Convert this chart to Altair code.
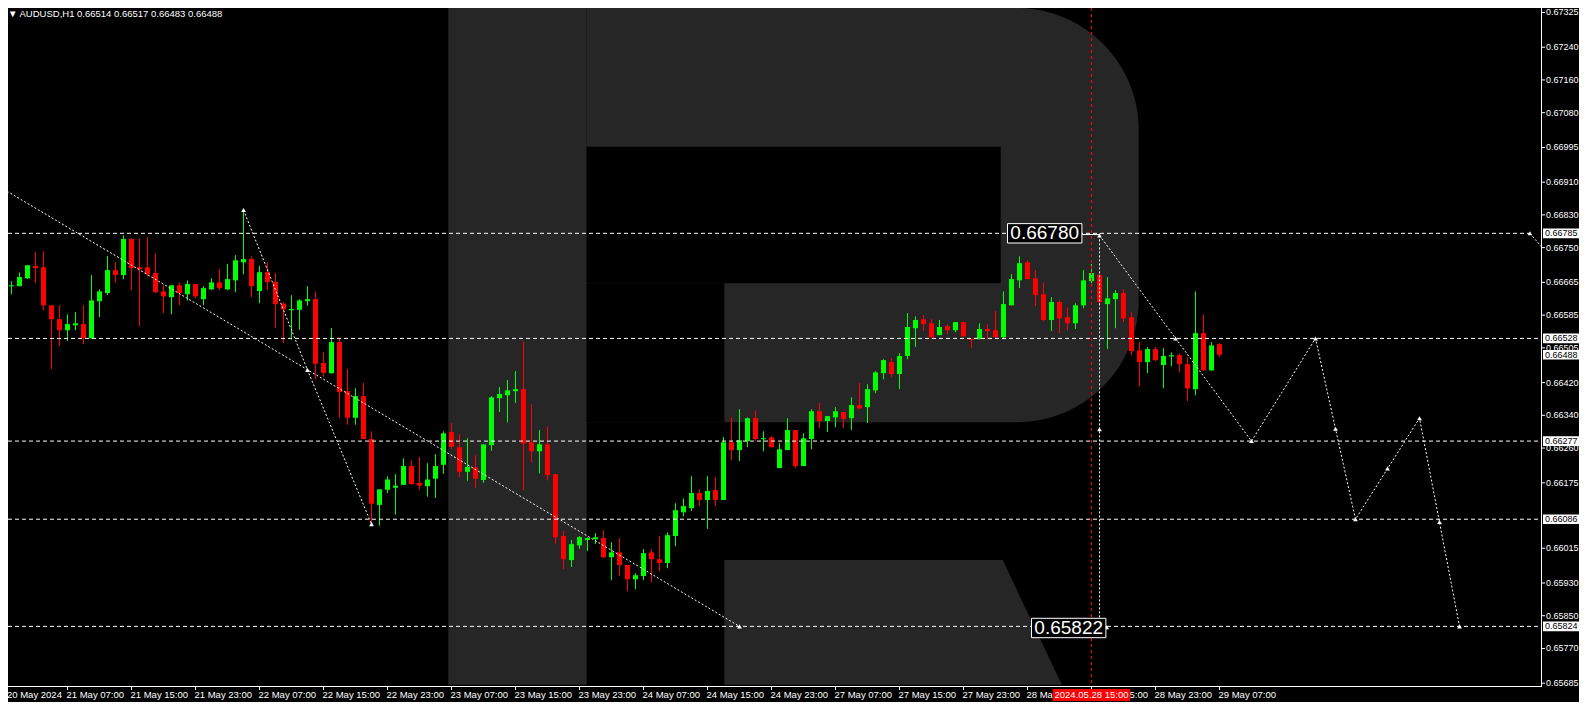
import altair as alt
import pandas as pd

FONT = "Liberation Sans"

# ---------------- candle data (H1 bars, index 0 = 20 May 23:00) ----------------
bar_index = list(range(153))
open_ = [0.66673,0.66657,0.66656,0.66675,0.66705,0.66702,0.66609,0.66575,0.66548,0.66560,
0.66563,0.66528,0.66619,0.66639,0.66695,0.66683,0.66771,0.66702,0.66702,0.66688,
0.66643,0.66629,0.66658,0.66636,0.66661,0.66624,0.66648,0.66665,0.66648,0.66670,
0.66714,0.66722,0.66644,0.66690,0.66666,0.66613,0.66597,0.66598,0.66619,0.66624,
0.66468,0.66443,0.66519,0.66399,0.66334,0.66387,0.66282,0.66121,0.66158,0.66163,
0.66170,0.66216,0.66175,0.66167,0.66185,0.66219,0.66299,0.66262,0.66202,0.66213,
0.66182,0.66267,0.66382,0.66389,0.66399,0.66404,0.66274,0.66252,0.66269,0.66196,
0.66045,0.65986,0.66022,0.66035,0.66037,0.66040,0.65993,0.66005,0.65974,0.65939,
0.65947,0.66005,0.65988,0.65979,0.66045,0.66103,0.66113,0.66150,0.66133,0.66157,
0.66133,0.66274,0.66255,0.66277,0.66333,0.66282,0.66286,0.66211,0.66255,0.66304,
0.66216,0.66282,0.66350,0.66326,0.66335,0.66348,0.66333,0.66365,0.66360,0.66401,
0.66443,0.66470,0.66441,0.66485,0.66553,0.66575,0.66565,0.66536,0.66558,0.66548,
0.66568,0.66527,0.66526,0.66551,0.66548,0.66531,0.66609,0.66670,0.66714,0.66675,
0.66636,0.66573,0.66617,0.66580,0.66565,0.66609,0.66668,0.66683,0.66612,0.66624,
0.66639,0.66580,0.66499,0.66470,0.66502,0.66463,0.66484,0.66487,0.66465,0.66404,
0.66541,0.66450,0.66514]
high_ = [0.66675,0.66668,0.66689,0.66707,0.66739,0.66741,0.66609,0.66609,0.66587,0.66592,
0.66609,0.66683,0.66648,0.66729,0.66714,0.66780,0.66773,0.66773,0.66775,0.66736,
0.66658,0.66658,0.66665,0.66670,0.66661,0.66656,0.66675,0.66697,0.66710,0.66732,
0.66842,0.66729,0.66705,0.66714,0.66688,0.66617,0.66634,0.66624,0.66656,0.66643,
0.66494,0.66553,0.66528,0.66453,0.66406,0.66419,0.66301,0.66159,0.66191,0.66196,
0.66235,0.66230,0.66238,0.66223,0.66245,0.66301,0.66321,0.66294,0.66284,0.66242,
0.66269,0.66387,0.66409,0.66426,0.66448,0.66521,0.66367,0.66304,0.66313,0.66196,
0.66057,0.66035,0.66045,0.66042,0.66052,0.66059,0.66030,0.66040,0.65974,0.65954,
0.66013,0.66013,0.66045,0.66054,0.66125,0.66137,0.66191,0.66159,0.66191,0.66189,
0.66287,0.66335,0.66355,0.66335,0.66352,0.66301,0.66289,0.66272,0.66333,0.66304,
0.66296,0.66355,0.66370,0.66338,0.66360,0.66348,0.66384,0.66419,0.66416,0.66448,
0.66477,0.66480,0.66492,0.66590,0.66582,0.66585,0.66575,0.66573,0.66563,0.66568,
0.66568,0.66529,0.66565,0.66563,0.66595,0.66643,0.66685,0.66729,0.66719,0.66695,
0.66665,0.66629,0.66621,0.66604,0.66614,0.66695,0.66710,0.66688,0.66678,0.66646,
0.66648,0.66592,0.66519,0.66507,0.66507,0.66504,0.66494,0.66492,0.66482,0.66643,
0.66587,0.66519,0.66517]
low_ = [0.66653,0.66636,0.66655,0.66673,0.66663,0.66597,0.66453,0.66509,0.66522,0.66548,
0.66514,0.66528,0.66580,0.66634,0.66665,0.66673,0.66646,0.66558,0.66680,0.66639,
0.66590,0.66587,0.66609,0.66621,0.66626,0.66609,0.66646,0.66646,0.66646,0.66641,
0.66685,0.66629,0.66614,0.66646,0.66554,0.66517,0.66525,0.66549,0.66608,0.66428,
0.66434,0.66442,0.66334,0.66317,0.66317,0.66282,0.66075,0.66070,0.66150,0.66097,
0.66170,0.66170,0.66158,0.66141,0.66138,0.66197,0.66258,0.66189,0.66180,0.66163,
0.66175,0.66253,0.66348,0.66323,0.66370,0.66157,0.66225,0.66198,0.66181,0.66026,
0.65964,0.65969,0.66013,0.66008,0.66025,0.65991,0.65937,0.65947,0.65910,0.65915,
0.65937,0.65932,0.65959,0.65966,0.66020,0.66093,0.66106,0.66118,0.66062,0.66118,
0.66133,0.66230,0.66228,0.66262,0.66277,0.66252,0.66262,0.66211,0.66255,0.66211,
0.66216,0.66257,0.66309,0.66299,0.66311,0.66309,0.66304,0.66355,0.66321,0.66394,
0.66428,0.66433,0.66404,0.66477,0.66507,0.66546,0.66526,0.66536,0.66538,0.66543,
0.66533,0.66504,0.66526,0.66526,0.66529,0.66526,0.66609,0.66651,0.66673,0.66607,
0.66570,0.66546,0.66541,0.66548,0.66551,0.66602,0.66663,0.66612,0.66502,0.66553,
0.66568,0.66487,0.66411,0.66443,0.66472,0.66406,0.66460,0.66445,0.66375,0.66389,
0.66450,0.66448,0.66483]
close_ = [0.66654,0.66658,0.66678,0.66707,0.66700,0.66609,0.66575,0.66548,0.66563,0.66565,
0.66528,0.66621,0.66643,0.66695,0.66683,0.66771,0.66700,0.66697,0.66685,0.66641,
0.66631,0.66658,0.66639,0.66661,0.66631,0.66651,0.66665,0.66651,0.66673,0.66719,
0.66722,0.66656,0.66690,0.66666,0.66612,0.66599,0.66600,0.66621,0.66624,0.66466,
0.66444,0.66519,0.66397,0.66334,0.66387,0.66282,0.66124,0.66159,0.66183,0.66168,
0.66216,0.66172,0.66168,0.66183,0.66216,0.66296,0.66263,0.66202,0.66214,0.66185,
0.66269,0.66384,0.66392,0.66401,0.66404,0.66271,0.66252,0.66269,0.66194,0.66042,
0.65988,0.66025,0.66042,0.66040,0.66042,0.65993,0.66005,0.65974,0.65939,0.65949,
0.66003,0.65988,0.65979,0.66047,0.66108,0.66118,0.66150,0.66133,0.66155,0.66133,
0.66274,0.66255,0.66279,0.66333,0.66282,0.66284,0.66262,0.66257,0.66304,0.66216,
0.66284,0.66350,0.66326,0.66338,0.66350,0.66331,0.66365,0.66357,0.66404,0.66445,
0.66475,0.66441,0.66485,0.66556,0.66573,0.66563,0.66531,0.66556,0.66548,0.66568,
0.66533,0.66525,0.66551,0.66546,0.66531,0.66612,0.66673,0.66712,0.66673,0.66634,
0.66573,0.66617,0.66577,0.66565,0.66609,0.66670,0.66688,0.66617,0.66626,0.66639,
0.66577,0.66497,0.66470,0.66502,0.66475,0.66485,0.66487,0.66465,0.66406,0.66541,
0.66450,0.66511,0.66488]

# ---------------- axis labels ----------------
tick_k = [0, 8, 16, 24, 32, 40, 48, 56, 64, 72, 80, 88, 96, 104, 112, 120, 128, 136, 144, 152]
tick_labels = ["20 May 2024", "21 May 07:00", "21 May 15:00", "21 May 23:00", "22 May 07:00",
               "22 May 15:00", "22 May 23:00", "23 May 07:00", "23 May 15:00", "23 May 23:00",
               "24 May 07:00", "24 May 15:00", "24 May 23:00", "27 May 07:00", "27 May 15:00",
               "27 May 23:00", "28 May 07:00", "28 May 15:00", "28 May 23:00", "29 May 07:00"]
y_ticks = [0.67325, 0.67240, 0.67160, 0.67080, 0.66995, 0.66910, 0.66830, 0.66750, 0.66665,
           0.66585, 0.66505, 0.66420, 0.66340, 0.66260, 0.66175, 0.66015, 0.65930,
           0.65850, 0.65770, 0.65685]

# ---------------- horizontal levels & price tags ----------------
levels = [0.66785, 0.66528, 0.66277, 0.66086, 0.65824]
level_end = [190.8, 192.2, 192.2, 192.2, 192.2]
tag_prices = [0.66785, 0.66528, close_[-1], 0.66277, 0.66086, 0.65824]

# ---------------- forecast paths ----------------
fc_a_k = [0, 92];                      fc_a_p = [0.66893, 0.65824]
fc_b_k = [30, 38, 46];                 fc_b_p = [0.66842, 0.66451, 0.66074]
fc_c_k = [137, 156, 164, 169, 177, 182]
fc_c_p = [0.66780, 0.66277, 0.66528, 0.66086, 0.66333, 0.65824]
fc_d_k = [137, 137];                   fc_d_p = [0.66780, 0.65822]
fc_e_k = [190.8, 193];                 fc_e_p = [0.66785, 0.66735]
marker_k = [30, 38, 46, 92, 137, 137, 137.9, 146.5, 156, 164, 166.5, 169, 173, 177, 179.5, 182, 190.8]
marker_p = [0.66842, 0.66451, 0.66074, 0.65824, 0.66780, 0.66306, 0.65822, 0.66528, 0.66277,
            0.66528, 0.66307, 0.66086, 0.66210, 0.66333, 0.66079, 0.65824, 0.66785]
callout_text = ["0.66780", "0.65822"]
callout_k = [130.15, 133.15]
callout_p = [0.66785, 0.65820]
time_mark_k = 136
time_mark_label = "2024.05.28 15:00"

# ---------------- layout ----------------
W, H = 1533, 678
K0, K1 = 0.5625, 192.1875
P0, P1 = 0.656782, 0.673359
xs = alt.Scale(domain=[K0, K1], nice=False, zero=False)
ys = alt.Scale(domain=[P0, P1], nice=False, zero=False)


def xq(f):
    return alt.X(f"{f}:Q", scale=xs, axis=None, title=None)


def yq(f):
    return alt.Y(f"{f}:Q", scale=ys, axis=None, title=None)


# ---------------- watermark (background logo) ----------------
GRAY = "#262626"
wm_stem = alt.Chart(pd.DataFrame({"k0": [55.6], "k1": [72.9], "p0": [0.65681], "p1": [0.67336]})) \
    .mark_rect(color=GRAY).encode(x=xq("k0"), x2="k1:Q", y=yq("p0"), y2="p1:Q")
wm_bowl = alt.Chart(pd.DataFrame({"k0": [72.9], "k1": [141.9], "p0": [0.66323], "p1": [0.67336]})) \
    .mark_rect(color=GRAY, cornerRadiusTopRight=122, cornerRadiusBottomRight=122) \
    .encode(x=xq("k0"), x2="k1:Q", y=yq("p0"), y2="p1:Q")
wm_holes = alt.Chart(pd.DataFrame({"k0": [72.9, 72.9], "k1": [124.65, 90.1],
                                   "p0": [0.66663, 0.66323], "p1": [0.669965, 0.66663]})) \
    .mark_rect(color="black").encode(x=xq("k0"), x2="k1:Q", y=yq("p0"), y2="p1:Q")
wm_leg = alt.Chart(pd.DataFrame({"k": [90.1, 124.9, 132.3], "p": [0.65986, 0.65986, 0.65681],
                                 "pb": [0.65681, 0.65681, 0.65681]})) \
    .mark_area(color=GRAY, orient="vertical").encode(x=xq("k"), y=yq("p"), y2="pb:Q")

# ---------------- axes drawn as marks ----------------
right_border = alt.Chart(pd.DataFrame({"a": [0]})).mark_rule(color="white", strokeWidth=1) \
    .encode(x=alt.value(W + 0.5), y=alt.value(0), y2=alt.value(H))
bottom_border = alt.Chart(pd.DataFrame({"a": [0]})).mark_rule(color="white", strokeWidth=1) \
    .encode(x=alt.value(0), x2=alt.value(W + 1), y=alt.value(H + 0.5))
yt = pd.DataFrame({"p": y_ticks, "t": [f"{v:.5f}" for v in y_ticks]})
y_tick_marks = alt.Chart(yt).mark_rule(color="white", strokeWidth=1) \
    .encode(x=alt.value(W), x2=alt.value(W + 4), y=yq("p"))
y_tick_text = alt.Chart(yt).mark_text(color="white", font=FONT, fontSize=9, align="left",
                                      baseline="middle") \
    .encode(x=alt.value(W + 5), y=yq("p"), text="t:N")
xt = pd.DataFrame({"k": tick_k, "kl": [max(k, K0) for k in tick_k], "t": tick_labels})
x_tick_marks = alt.Chart(xt).mark_rule(color="white", strokeWidth=1) \
    .encode(x=xq("k"), y=alt.value(H), y2=alt.value(H + 4))
x_tick_text = alt.Chart(xt).mark_text(color="white", font=FONT, fontSize=9.5, align="left",
                                      baseline="top", dx=-1) \
    .encode(x=xq("kl"), y=alt.value(H + 4), text="t:N")

# ---------------- candles ----------------
candles = pd.DataFrame({"k": bar_index, "open": open_, "high": high_, "low": low_, "close": close_})
cbase = alt.Chart(candles).transform_calculate(
    dir="datum.close >= datum.open ? 'up' : 'down'",
    bt="max(datum.open, datum.close)",
    bb0="min(datum.open, datum.close)",
    kl="datum.k - 0.3125",
    kr="datum.k + 0.3125",
).transform_calculate(
    bb="datum.bt - datum.bb0 < 0.000025 ? datum.bt - 0.000025 : datum.bb0"
)
ccolor = alt.Color("dir:N", scale=alt.Scale(domain=["up", "down"], range=["#00ff00", "#ff0000"]),
                   legend=None)
wicks = cbase.mark_rule(strokeWidth=1, clip=True).encode(
    x=xq("k"), y=yq("low"), y2="high:Q", color=ccolor)
bodies = cbase.mark_rect(clip=True).encode(x=xq("kl"), x2="kr:Q", y=yq("bb"), y2="bt:Q", color=ccolor)

# ---------------- lines ----------------
time_rule = alt.Chart(pd.DataFrame({"k": [time_mark_k]})).mark_rule(
    color="#ff0000", strokeDash=[3, 3], strokeWidth=1).encode(x=xq("k"))

lv = pd.DataFrame({"p": levels, "k0": [K0] * len(levels), "k1": level_end})
level_rules = alt.Chart(lv).mark_rule(color="white", strokeDash=[4, 3], strokeWidth=1, clip=True) \
    .encode(x=xq("k0"), x2="k1:Q", y=yq("p"))

rows = []
for name, ks, ps in [("A", fc_a_k, fc_a_p), ("B", fc_b_k, fc_b_p), ("C", fc_c_k, fc_c_p),
                     ("D", fc_d_k, fc_d_p), ("E", fc_e_k, fc_e_p)]:
    for i, (k, p) in enumerate(zip(ks, ps)):
        rows.append({"path": name, "seq": i, "k": k, "p": p})
fc = pd.DataFrame(rows)
fc_lines = alt.Chart(fc).mark_line(color="white", strokeWidth=1, strokeDash=[2, 2], clip=True) \
    .encode(x=xq("k"), y=yq("p"), detail="path:N", order="seq:Q")

markers = alt.Chart(pd.DataFrame({"k": marker_k, "p": marker_p})).mark_point(
    shape="triangle-up", filled=True, color="white", size=22, opacity=1, clip=True) \
    .encode(x=xq("k"), y=yq("p"))

# ---------------- callouts ----------------
co = pd.DataFrame({"t": callout_text, "k": callout_k, "p": callout_p})
co_base = alt.Chart(co).transform_calculate(
    ka="datum.k - 4.65", kb="datum.k + 4.65", pa="datum.p + 0.000237", pb="datum.p - 0.000237")
co_conn = alt.Chart(pd.DataFrame({"k0": [134.8], "k1": [137], "p": [0.66782]})) \
    .mark_rule(color="white", strokeWidth=1).encode(x=xq("k0"), x2="k1:Q", y=yq("p"))
co_box = co_base.mark_rect(fill="black", stroke="white", strokeWidth=1) \
    .encode(x=xq("ka"), x2="kb:Q", y=yq("pa"), y2="pb:Q")
co_txt = co_base.mark_text(color="white", font=FONT, fontSize=19, align="center", baseline="middle") \
    .encode(x=xq("k"), y=yq("p"), text="t:N")

# ---------------- axis tags ----------------
tags = pd.DataFrame({"p": tag_prices, "t": [f"{v:.5f}" for v in tag_prices]})
tag_base = alt.Chart(tags).transform_calculate(pa="datum.p + 0.000118", pb="datum.p - 0.000118")
tag_box = tag_base.mark_rect(fill="white").encode(
    x=alt.value(W + 2), x2=alt.value(W + 38), y=yq("pa"), y2="pb:Q")
tag_txt = tag_base.mark_text(color="black", font=FONT, fontSize=9, align="left", baseline="middle") \
    .encode(x=alt.value(W + 4), y=yq("p"), text="t:N")

tm = pd.DataFrame({"k": [time_mark_k], "t": [time_mark_label]})
tm_base = alt.Chart(tm).transform_calculate(ka="datum.k - 4.85", kb="datum.k + 4.85")
tm_box = tm_base.mark_rect(fill="#ff0000").encode(
    x=xq("ka"), x2="kb:Q", y=alt.value(H + 3), y2=alt.value(H + 15))
tm_txt = tm_base.mark_text(color="white", font=FONT, fontSize=9.5, align="center", baseline="middle") \
    .encode(x=xq("k"), y=alt.value(H + 9), text="t:N")

title_txt = alt.Chart(pd.DataFrame({"t": [
    f"\u25BC AUDUSD,H1  {open_[-1]:.5f} {high_[-1]:.5f} {low_[-1]:.5f} {close_[-1]:.5f}"]})) \
    .mark_text(color="white", font=FONT, fontSize=9.5, align="left", baseline="top") \
    .encode(x=alt.value(0), y=alt.value(1), text="t:N")

chart = alt.layer(
    wm_stem, wm_bowl, wm_holes, wm_leg,
    right_border, bottom_border, y_tick_marks, y_tick_text, x_tick_marks, x_tick_text,
    wicks, bodies,
    time_rule, level_rules, fc_lines, markers,
    co_conn, co_box, co_txt,
    tag_box, tag_txt, tm_box, tm_txt, title_txt,
).properties(
    width=W, height=H,
    padding={"left": 0, "top": 0, "right": 38, "bottom": 16},
    autosize=alt.AutoSizeParams(type="none"),
    background="black",
).configure_view(stroke=None)

chart.save("out.html", embed_options={"renderer": "svg", "actions": False})
